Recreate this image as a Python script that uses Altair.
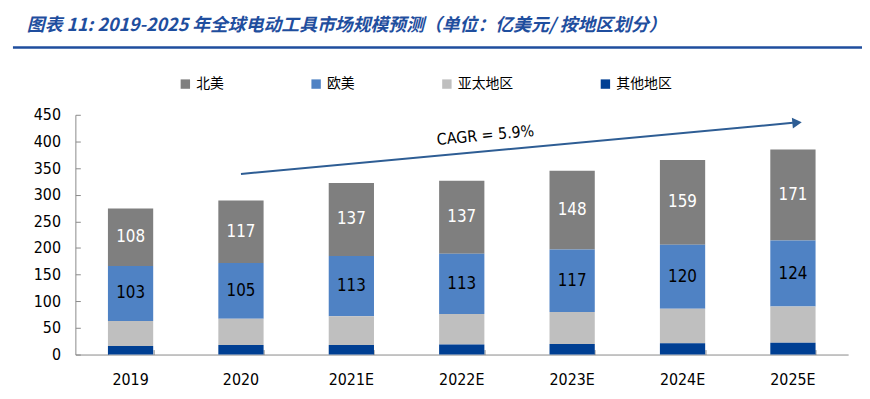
import altair as alt
import pandas as pd

# ---- data ----
years = ["2019", "2020", "2021E", "2022E", "2023E", "2024E", "2025E"]
north_america = [108, 117, 137, 137, 148, 159, 171]   # 北美
europe = [103, 105, 113, 113, 117, 120, 124]          # 欧美
asia_pacific = [47, 49, 54, 57, 60, 65, 68]           # 亚太地区
other = [16, 18, 18, 19, 20, 21, 22]                  # 其他地区
regions = ["北美", "欧美", "亚太地区", "其他地区"]
region_colors = ["#7f7f7f", "#4f82c4", "#bfbfbf", "#003f93"]
labelled_regions = ["北美", "欧美"]
y_ticks = [0, 50, 100, 150, 200, 250, 300, 350, 400, 450]

cagr_text = "CAGR = 5.9%"
arrow_from = ("2020", 339)
arrow_to = ("2025E", 435)
cagr_pos = ("2022E", 407)
title_text = "图表 11:  2019-2025 年全球电动工具市场规模预测（单位：亿美元/ 按地区划分）"

series = {"北美": north_america, "欧美": europe, "亚太地区": asia_pacific, "其他地区": other}
stack_rank = {"其他地区": 0, "亚太地区": 1, "欧美": 2, "北美": 3}
rows = []
for r in regions:
    for yr, v in zip(years, series[r]):
        rows.append({"year": yr, "region": r, "value": v, "rank": stack_rank[r],
                     "labelled": r in labelled_regions})
df = pd.DataFrame(rows)

arrow_df = pd.DataFrame({"x0": [arrow_from[0]], "x1": [arrow_to[0]],
                         "y0": [arrow_from[1]], "y1": [arrow_to[1]]})
cagr_df = pd.DataFrame({"x": [cagr_pos[0]], "y": [cagr_pos[1]], "t": [cagr_text]})
title_df = pd.DataFrame({"t": [title_text]})

FONT = "DejaVu Sans Condensed, DejaVu Sans, sans-serif"
CJK = "Noto Sans CJK SC"
AXIS_GRAY = "#8a8a8a"

xscale = alt.Scale(domain=years, paddingInner=0.59, paddingOuter=0.295)
yscale = alt.Scale(domain=[0, 450], nice=False)

bars = alt.Chart(df).mark_bar().encode(
    x=alt.X("year:N", sort=years, scale=xscale,
            axis=alt.Axis(title=None, labelAngle=0, ticks=False, tickSize=0, labelPadding=17,
                          labelFontSize=16, labelFont=FONT, labelColor="#000",
                          domainColor=AXIS_GRAY, orient="bottom")),
    y=alt.Y("value:Q", stack="zero", scale=yscale,
            axis=alt.Axis(title=None, values=y_ticks, ticks=False, tickSize=0, grid=False,
                          labelPadding=15, labelFontSize=16, labelFont=FONT, labelColor="#000",
                          domainColor=AXIS_GRAY, orient="left")),
    color=alt.Color("region:N", scale=alt.Scale(domain=regions, range=region_colors),
                    legend=alt.Legend(title=None, orient="none", legendX=104, legendY=-38,
                                      direction="horizontal", columnPadding=86,
                                      symbolType="square", symbolSize=90, symbolStrokeWidth=0,
                                      labelFont=CJK, labelFontSize=14, labelOffset=4,
                                      labelColor="#000", padding=0)),
    order=alt.Order("rank:Q", sort="ascending"),
)

ticks = alt.Chart(df).mark_bar(opacity=0).encode(
    x=alt.X("year:N", sort=years, scale=xscale,
            axis=alt.Axis(title=None, orient="bottom", offset=-5, tickSize=5, tickBand="extent",
                          labels=False, domain=False, tickColor=AXIS_GRAY)),
    y=alt.Y("value:Q", stack="zero", scale=yscale,
            axis=alt.Axis(title=None, orient="left", offset=-5, tickSize=5, values=y_ticks,
                          labels=False, domain=False, grid=False, tickColor=AXIS_GRAY)),
    order=alt.Order("rank:Q", sort="ascending"),
)

labels = alt.Chart(df).transform_stack(
    stack="value", groupby=["year"], as_=["y0", "y1"],
    sort=[alt.SortField("rank", order="ascending")]
).transform_calculate(
    mid="(datum.y0 + datum.y1) / 2"
).transform_filter("datum.labelled").mark_text(fontSize=17, font=FONT).encode(
    x=alt.X("year:N", sort=years, scale=xscale, axis=None),
    y=alt.Y("mid:Q", scale=yscale, axis=None),
    text=alt.Text("value:Q"),
    color=alt.condition("datum.region == '北美'", alt.value("#ffffff"), alt.value("#000000")),
)

ARROW = "#2e5d94"
arrow = alt.Chart(arrow_df).mark_rule(color=ARROW, strokeWidth=2).encode(
    x=alt.X("x0:N", sort=years, scale=xscale, axis=None),
    x2="x1:N",
    y=alt.Y("y0:Q", scale=yscale, axis=None),
    y2="y1:Q",
)
head = alt.Chart(arrow_df).mark_point(shape="triangle-right", filled=True, size=120,
                                      angle=354.7, color=ARROW, opacity=1).encode(
    x=alt.X("x1:N", sort=years, scale=xscale, axis=None),
    y=alt.Y("y1:Q", scale=yscale, axis=None),
    xOffset=alt.value(27),
)
cagr = alt.Chart(cagr_df).mark_text(fontSize=16, font=FONT, angle=354.7, dx=24,
                                    color="#000").encode(
    x=alt.X("x:N", sort=years, scale=xscale, axis=None),
    y=alt.Y("y:Q", scale=yscale, axis=None),
    text="t:N",
)

TITLE_BLUE = "#1f4e9e"
title = alt.Chart(title_df).mark_text(font=CJK, fontSize=18, fontStyle="italic",
                                      fontWeight="bold", color=TITLE_BLUE, align="left",
                                      baseline="middle").encode(
    x=alt.value(-49), y=alt.value(-90), text="t:N")
title_line = alt.Chart(title_df).mark_rule(color=TITLE_BLUE, strokeWidth=2.5).encode(
    x=alt.value(-63), x2=alt.value(800), y=alt.value(-68))

chart = alt.layer(bars, ticks, labels, arrow, head, cagr, title, title_line).resolve_axis(
    x="independent", y="independent"
).properties(
    width=780, height=242,
    autosize=alt.AutoSizeParams(type="none"),
    padding={"left": 68, "top": 106, "right": 14, "bottom": 35},
).configure_view(stroke=None)

chart.save("out.html", embed_options={"renderer": "svg", "actions": False})
